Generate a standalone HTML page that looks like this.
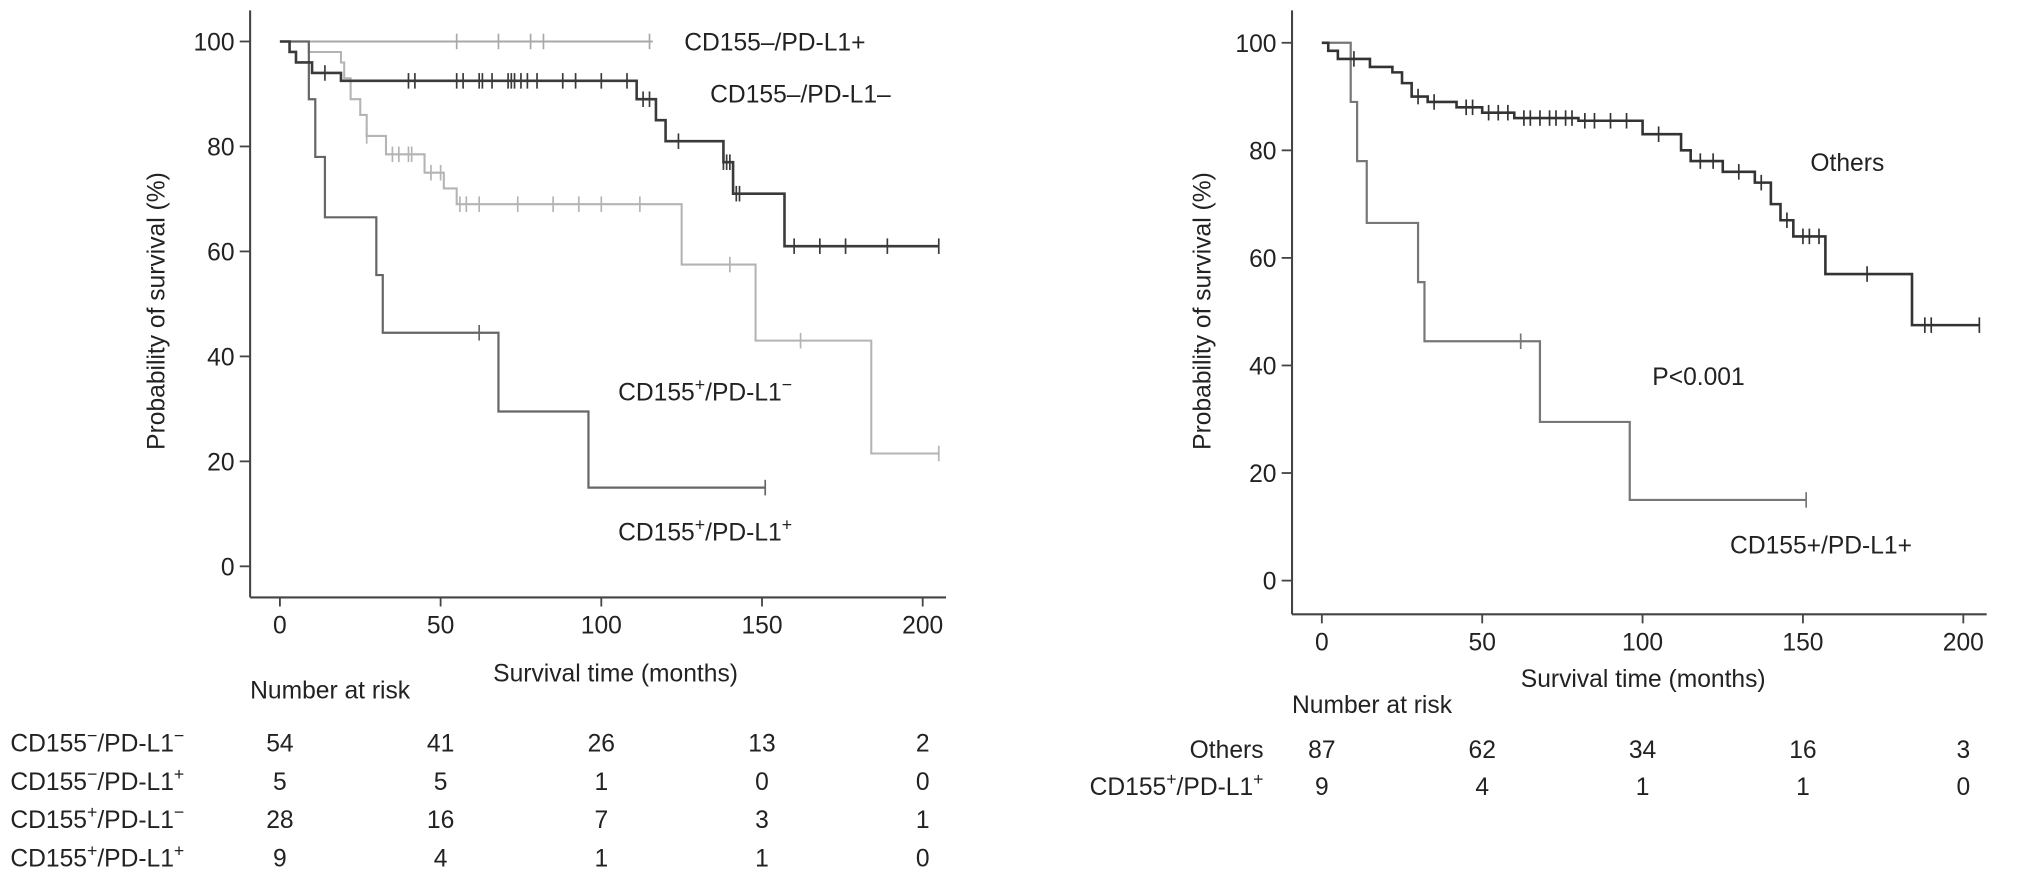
<!DOCTYPE html>
<html><head><meta charset="utf-8"><style>
html,body{margin:0;padding:0;background:#fff;}
svg{display:block;font-family:"Liberation Sans",Arial,sans-serif;}
</style></head><body>
<svg id="fig" width="2032" height="874" viewBox="0 0 1568 674.4">
<g id="left"></g>
<g id="right"></g>
</svg>
<script>
// ---- data (months, survival %) ----
const xTicks = [0, 50, 100, 150, 200];
const yTicks = [0, 20, 40, 60, 80, 100];
const nnTimes = [0,3,5,10,19,111,117,120,138,141,157,205];
const nnSurv  = [100,98,96,94,92.5,89,85,81,77,71,61,61];
const nnCens  = [14,40,42,55,57,62,63,66,71,72,73,75,77,80,88,92,100,108,113,115,124,138,139,140,142,143,160,168,176,189,205];
const npTimes = [0,116];
const npSurv  = [100,100];
const npCens  = [55,68,78,82,115];
const pnTimes = [0,9,19,20,22,25,27,33,45,51,55,125,148,184,205];
const pnSurv  = [100,98,96,93,89,86,82,78.5,75,72,69,57.5,43,21.5,21.5];
const pnCens  = [27,35,37,40,41,47,50,56,58,62,74,85,93,100,112,140,162,205];
const ppTimes = [0,9,11,14,30,32,68,96,151];
const ppSurv  = [100,89,78,66.5,55.5,44.5,29.5,15,15];
const ppCens  = [62,151];
const otTimes = [0,2,5,15,22,25,28,33,42,50,60,80,100,112,115,125,135,140,143,147,157,184,205];
const otSurv  = [100,98.5,97,95.5,94.5,92.5,90,89,88,87,86,85.5,83,80,78,76,74,70,67,64,57,47.5,47.5];
const otCens  = [10,30,35,45,47,52,55,58,63,65,68,71,73,76,78,82,85,90,95,105,118,122,130,137,145,150,152,155,170,188,190,205];
const riskLeftLabels = ["CD155−/PD-L1−","CD155−/PD-L1+","CD155+/PD-L1−","CD155+/PD-L1+"];
const riskLeft = [[54,41,26,13,2],[5,5,1,0,0],[28,16,7,3,1],[9,4,1,1,0]];
const riskRightLabels = ["Others","CD155+/PD-L1+"];
const riskRight = [[87,62,34,16,3],[9,4,1,1,0]];

const NS="http://www.w3.org/2000/svg";
function mk(parent,tag,attrs,text){const e=document.createElementNS(NS,tag);for(const k in attrs)e.setAttribute(k,attrs[k]);if(text!==undefined)e.textContent=text;parent.appendChild(e);return e;}
function supLabel(parent,x,y,str,anchor,size){
  // str like CD155+/PD-L1- : render signs as superscripts
  const t=mk(parent,'text',{x:x,y:y,'font-size':size,'text-anchor':anchor||'start',fill:'#222'});
  const m=str.match(/^(CD155)(.)(\/PD-L1)(.)$/);
  if(!m){t.textContent=str;return t;}
  mk(t,'tspan',{},m[1]);
  mk(t,'tspan',{'baseline-shift':'super','font-size':size*0.72},m[2]=='+'?'+':'−');
  mk(t,'tspan',{'baseline-shift':'0'},m[3]);
  mk(t,'tspan',{'baseline-shift':'super','font-size':size*0.72},m[4]=='+'?'+':'−');
  return t;
}
function buildAxes(g,ax){
  const X=v=>ax.x0+(ax.x1-ax.x0)*v/200, Y=v=>ax.y0+(ax.y100-ax.y0)*v/100;
  const yl=mk(g,'line',{x1:ax.ax,y1:8,x2:ax.ax,y2:ax.axY,stroke:'#444','stroke-width':1.6});
  
  
  const xl=mk(g,'line',{x1:ax.ax,y1:ax.axY,x2:ax.x1+18,y2:ax.axY,stroke:'#444','stroke-width':1.6});
  
  
  yTicks.forEach(v=>{
    mk(g,'line',{x1:ax.ax-8,y1:Y(v),x2:ax.ax,y2:Y(v),stroke:'#444','stroke-width':1.4});
    const t=mk(g,'text',{x:ax.ax-12,y:Y(v)+7,'font-size':19,'text-anchor':'end',fill:'#222'},v);
    
    
  });
  xTicks.forEach(v=>{
    mk(g,'line',{x1:X(v),y1:ax.axY,x2:X(v),y2:ax.axY+7,stroke:'#444','stroke-width':1.4});
    const t=mk(g,'text',{x:X(v),y:ax.axY+28,'font-size':19,'text-anchor':'middle',fill:'#222'},v);
    
    
  });
  const xt=mk(g,'text',{x:ax.xtX,y:ax.xtY,'font-size':19,'text-anchor':'middle',fill:'#222'},'Survival time (months)');
  
  
  const yt=mk(g,'text',{x:0,y:0,'font-size':19,'text-anchor':'middle',fill:'#222',transform:`translate(${ax.ytX},${ax.ytY}) rotate(-90)`},'Probability of survival (%)');
  
  
  return {X,Y};
}
function stepSurv(times,surv,t){let s=surv[0];for(let i=0;i<times.length;i++){if(times[i]<=t)s=surv[i];}return s;}
function curve(g,S,times,surv,cens,color,w,name){
  let d=`M${S.X(times[0])},${S.Y(surv[0])}`;
  for(let i=1;i<times.length;i++){d+=` H${S.X(times[i])} V${S.Y(surv[i])}`;}
  const p=mk(g,'path',{d:d,fill:'none',stroke:color,'stroke-width':w});
  
  
  cens.forEach(c=>{
    const y=S.Y(stepSurv(times,surv,c));
    const l=mk(g,'line',{x1:S.X(c),y1:y-6,x2:S.X(c),y2:y+6,stroke:color,'stroke-width':1.3});
    
    
  });
}
function riskTable(g,S,labels,rows,cfg){
  const h=mk(g,'text',{x:cfg.hx,y:cfg.hy,'font-size':19,fill:'#222'},'Number at risk');
  
  
  rows.forEach((r,i)=>{
    const y=cfg.y0+i*cfg.dy;
    const l=supLabel(g,cfg.lx,y,labels[i],cfg.anchor,19);
    
    
    r.forEach((v,j)=>{
      const t=mk(g,'text',{x:S.X(xTicks[j]),y:y,'font-size':19,'text-anchor':'middle',fill:'#222'},v);
      
      
    });
  });
}
// left chart
const L=document.getElementById('left');
const SL=buildAxes(L,{ax:193,axY:461,x0:216,x1:712,y0:437,y100:32,xtX:475,xtY:526,ytX:127,ytY:240});
curve(L,SL,npTimes,npSurv,npCens,'#a8a8a8',1.6,'curve-cd155neg-pdl1pos');
curve(L,SL,pnTimes,pnSurv,pnCens,'#b4b4b4',1.6,'curve-cd155pos-pdl1neg');
curve(L,SL,ppTimes,ppSurv,ppCens,'#666',1.7,'curve-cd155pos-pdl1pos');
curve(L,SL,nnTimes,nnSurv,nnCens,'#3a3a3a',2,'curve-cd155neg-pdl1neg');
[["CD155–/PD-L1+",528,39],["CD155–/PD-L1–",548,79]].forEach(a=>{
  const t=mk(L,'text',{x:a[1],y:a[2],'font-size':19,fill:'#222'},a[0]);
  
  
});
let s1=supLabel(L,477,309,'CD155+/PD-L1-','start',19);


let s2=supLabel(L,477,417,'CD155+/PD-L1+','start',19);


riskTable(L,SL,riskLeftLabels,riskLeft,{hx:193,hy:539,lx:8,y0:580,dy:29.5,anchor:'start'});
// right chart
const R=document.getElementById('right');
const SR=buildAxes(R,{ax:997,axY:474,x0:1020,x1:1515,y0:448,y100:33,xtX:1268,xtY:530,ytX:934,ytY:240});
curve(R,SR,ppTimes,ppSurv,ppCens,'#777',1.7,'curve-cd155pos-pdl1pos');
curve(R,SR,otTimes,otSurv,otCens,'#333',2,'curve-others');
[["Others",1397,132],["P<0.001",1275,297],["CD155+/PD-L1+",1335,427]].forEach(a=>{
  const t=mk(R,'text',{x:a[1],y:a[2],'font-size':19,fill:'#222'},a[0]);
  
  
});
riskTable(R,SR,riskRightLabels,riskRight,{hx:997,hy:550,lx:975,y0:585,dy:28.5,anchor:'end'});
</script>
</body></html>
